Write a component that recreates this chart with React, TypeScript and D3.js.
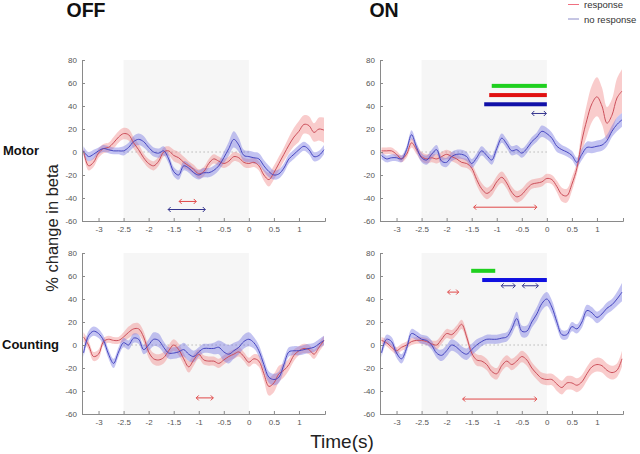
import React, { useEffect, useRef } from "react";
import * as d3 from "d3";

const times = [-3.3,-3.2,-3.1,-3.0,-2.9,-2.8,-2.7,-2.6,-2.5,-2.4,-2.3,-2.2,-2.1,-2.0,-1.9,-1.8,-1.7,-1.6,-1.5,-1.4,-1.3,-1.2,-1.1,-1.0,-0.9,-0.8,-0.7,-0.6,-0.5,-0.4,-0.3,-0.2,-0.1,0,0.1,0.2,0.3,0.4,0.5,0.6,0.7,0.8,0.9,1.0,1.1,1.2,1.3,1.4,1.5];

// OFF / Motor
const offMotorResp = [1,-12,-9,-1,3,4,8,13,16,15, 8,2,-5,-10,-12,-8,0,1,-3,-5, -9,-12,-15,-19,-17,-10,-6,-8,-10,-8, -4,-5,-9,-10,-9,-12,-20,-24,-18,-10, -2,6,13,18,24,23,17,20,19];
const offMotorRespSem = [3,4,4,4,4,4,5,5,5,5, 5,5,4,4,4,4,4,4,5,5, 5,4,4,4,4,4,4,4,4,4, 4,4,4,4,4,4,5,6,6,6, 6,7,8,9,8,8,8,10,11];
const offMotorNo = [1,-4,-2,1,3,2,1,1,1,4, 9,11,9,4,0,-1,1,-6,-17,-20, -12,-14,-18,-20,-18,-18,-16,-12,-5,3, 11,6,-3,-4,-5,-6,-12,-17,-20,-19, -14,-6,-2,2,5,2,-4,-3,2];
const offMotorNoSem = [4,4,4,3,3,3,3,3,4,4, 5,5,5,4,4,4,4,4,4,4, 4,4,4,4,4,4,4,4,5,6, 7,6,5,5,5,5,5,5,4,4, 4,4,4,4,4,4,4,4,4];

// ON / Motor
const onMotorResp = [1,1,1,-2,-6,-2,8,2,-4,-6, -5,-6,-4,-2,-4,-6,-9,-10,-14,-24, -32,-36,-33,-26,-22,-27,-35,-39,-37,-32, -28,-27,-26,-23,-24,-30,-37,-38,-28,-14, 10,28,42,48,40,25,32,47,53];
const onMotorRespSem = [3,3,3,3,3,3,4,4,4,4, 4,4,4,4,4,4,4,4,4,5, 5,5,5,5,5,5,5,5,5,5, 4,4,4,4,4,5,6,6,6,5, 10,14,16,17,16,14,14,17,19];
const onMotorNo = [-3,-6,-5,-5,-6,2,15,4,-5,-7, -2,2,-8,-9,-4,-2,-2,-4,-10,-5, 1,-3,-7,3,12,7,1,2,-1,3, 9,13,18,16,12,5,2,0,-3,-9, -2,4,4,5,6,10,18,24,28];
const onMotorNoSem = [3,3,3,3,3,3,4,4,4,4, 4,4,4,4,4,4,4,4,4,4, 4,4,4,4,4,4,4,4,4,4, 4,4,5,5,5,5,4,4,4,4, 5,5,5,5,5,5,5,6,6];

// OFF / Counting
const offCountResp = [7,0,-10,-8,3,5,4,4,7,11, 14,14,7,-6,-12,-13,-11,-5,0,-4, -12,-19,-13,-8,-13,-14,-14,-16,-13,-10, -8,-6,-10,-15,-12,-14,-25,-36,-33,-25, -22,-17,-9,-5,-3,-4,-8,-2,4];
const offCountRespSem = [4,4,4,4,3,3,3,3,4,5, 5,5,5,5,5,5,5,5,5,5, 5,5,5,4,4,4,4,4,4,4, 4,4,4,4,4,5,6,8,8,7, 6,5,5,4,4,4,4,4,4];
const offCountNo = [-7,8,12,10,4,-8,-16,-6,2,0, 6,5,-4,0,5,4,-2,-7,-7,-6, -4,-8,-10,-6,-3,-3,-3,-2,-6,-8, -5,-2,3,5,2,-5,-17,-28,-30,-28, -17,-6,-5,-5,-4,-3,-2,1,4];
const offCountNoSem = [4,4,4,4,4,4,4,4,4,4, 4,4,4,5,6,6,5,5,5,5, 6,6,5,4,4,4,5,6,8,8, 7,6,6,6,5,5,5,5,5,5, 5,4,4,4,4,4,4,4,4];

// ON / Counting
const onCountResp = [4,2,-2,-5,-2,0,3,4,4,3, 1,0,5,10,9,13,18,7,-7,-13, -14,-17,-23,-25,-18,-14,-17,-14,-10,-13, -20,-25,-29,-30,-30,-34,-37,-33,-33,-35, -32,-25,-19,-17,-18,-22,-24,-22,-12];
const onCountRespSem = [3,3,3,3,3,3,3,3,3,3, 3,4,4,4,4,4,4,4,4,5, 5,5,5,5,5,5,5,5,5,5, 5,5,5,5,5,6,6,6,6,6, 6,6,6,6,6,6,6,6,7];
const onCountNo = [-7,5,3,-7,-12,-3,10,8,5,4, 0,-7,-9,-5,0,-2,-6,-8,-4,0, 3,5,5,5,6,7,14,23,12,12, 20,27,36,40,33,20,9,9,16,14, 20,30,28,24,27,32,35,40,46];
const onCountNoSem = [4,4,4,4,4,4,4,4,4,4, 4,4,5,5,5,5,5,5,5,5, 4,4,4,4,4,4,5,6,5,5, 5,6,6,6,6,5,4,4,4,4, 5,5,5,5,5,5,5,6,8];

const yTicks = [-60, -40, -20, 0, 20, 40, 60, 80];
const xTicks = [-3, -2.5, -2, -1.5, -1, -0.5, 0, 0.5, 1];
const xDomain: [number, number] = [-3.33, 1.52];
const yDomain: [number, number] = [-60, 80];
const shadeRange: [number, number] = [-2.5, 0];

// significance bars: [from, to, value]
const onMotorBars = [
  { from: -1.1, to: 0, v: 57.5, color: "#1fd01f" },
  { from: -1.15, to: 0, v: 49.5, color: "#e01010" },
  { from: -1.25, to: 0, v: 41.5, color: "#1010a8" },
];
const onCountBars = [
  { from: -1.51, to: -1.03, v: 64.5, color: "#1fd01f" },
  { from: -1.29, to: 0, v: 56.5, color: "#1010e0" },
];
// arrows: [from, to, value]
const offMotorArrows = [
  { from: -1.39, to: -1.05, v: -43, kind: "r" },
  { from: -1.61, to: -0.87, v: -50, kind: "b" },
];
const onMotorArrows = [
  { from: -0.3, to: -0.01, v: 33.5, kind: "b" },
  { from: -1.46, to: -0.2, v: -48, kind: "r" },
];
const offCountArrows = [{ from: -1.05, to: -0.71, v: -46, kind: "r" }];
const onCountArrows = [
  { from: -0.91, to: -0.63, v: 51.5, kind: "b" },
  { from: -0.49, to: -0.17, v: 51.5, kind: "b" },
  { from: -1.98, to: -1.76, v: 46, kind: "r" },
  { from: -1.68, to: -0.2, v: -47, kind: "r" },
];

type Panel = {
  x0: number; x1: number; y0: number; y1: number;
  resp: number[]; respSem: number[]; no: number[]; noSem: number[];
  bars: { from: number; to: number; v: number; color: string }[];
  arrows: { from: number; to: number; v: number; kind: string }[];
};

const panels: Panel[] = [
  { x0: 82, x1: 325, y0: 60, y1: 221, resp: offMotorResp, respSem: offMotorRespSem, no: offMotorNo, noSem: offMotorNoSem, bars: [], arrows: offMotorArrows },
  { x0: 380, x1: 623, y0: 60, y1: 221, resp: onMotorResp, respSem: onMotorRespSem, no: onMotorNo, noSem: onMotorNoSem, bars: onMotorBars, arrows: onMotorArrows },
  { x0: 82, x1: 325, y0: 253, y1: 414, resp: offCountResp, respSem: offCountRespSem, no: offCountNo, noSem: offCountNoSem, bars: [], arrows: offCountArrows },
  { x0: 380, x1: 623, y0: 253, y1: 414, resp: onCountResp, respSem: onCountRespSem, no: onCountNo, noSem: onCountNoSem, bars: onCountBars, arrows: onCountArrows },
];

const RED_LINE = "#cc4f5a";
const RED_BAND = "#f08080";
const BLUE_LINE = "#4646c0";
const BLUE_BAND = "#7070e0";

function Axes({ p }: { p: Panel }) {
  const gx = useRef<SVGGElement>(null);
  const gy = useRef<SVGGElement>(null);
  useEffect(() => {
    const x = d3.scaleLinear().domain(xDomain).range([p.x0, p.x1]);
    const y = d3.scaleLinear().domain(yDomain).range([p.y1, p.y0]);
    const ax = d3.axisBottom(x).tickValues(xTicks).tickSize(-3).tickPadding(5).tickFormat((d: any) => String(d));
    const ay = d3.axisLeft(y).tickValues(yTicks).tickSize(-3).tickPadding(5).tickFormat((d: any) => String(d));
    const sx = d3.select(gx.current!);
    sx.call(ax as any);
    const sy = d3.select(gy.current!);
    sy.call(ay as any);
    [sx, sy].forEach((s) => {
      s.selectAll("path").attr("stroke", "#8a8a8a").attr("stroke-width", 1);
      s.selectAll("line").attr("stroke", "#8a8a8a");
      s.selectAll("text").attr("fill", "#555").style("font-size", "8px").style("font-family", "Arial, 'Liberation Sans', sans-serif");
    });
  }, [p]);
  return (
    <g>
      <g ref={gx} transform={`translate(0,${p.y1})`} />
      <g ref={gy} transform={`translate(${p.x0},0)`} />
    </g>
  );
}

function Arrow({ x1, x2, y, color }: { x1: number; x2: number; y: number; color: string }) {
  const h = 2.5;
  return (
    <g stroke={color} strokeWidth={1} fill="none">
      <line x1={x1} x2={x2} y1={y} y2={y} />
      <path d={`M${x1 + h},${y - h} L${x1},${y} L${x1 + h},${y + h}`} />
      <path d={`M${x2 - h},${y - h} L${x2},${y} L${x2 - h},${y + h}`} />
    </g>
  );
}

function PanelView({ p }: { p: Panel }) {
  const x = d3.scaleLinear().domain(xDomain).range([p.x0, p.x1]);
  const y = d3.scaleLinear().domain(yDomain).range([p.y1, p.y0]);
  const clipId = `clip-${p.x0}-${p.y0}`;
  const idx = times.map((_, i) => i);
  const area = (m: number[], s: number[]) =>
    d3.area<number>().x((i) => x(times[i])).y0((i) => y(m[i] - s[i])).y1((i) => y(m[i] + s[i])).curve(d3.curveCatmullRom)(idx) || "";
  const line = (m: number[]) =>
    d3.line<number>().x((i) => x(times[i])).y((i) => y(m[i])).curve(d3.curveCatmullRom)(idx) || "";
  return (
    <g>
      <defs>
        <clipPath id={clipId}>
          <rect x={p.x0} y={p.y0 - 20} width={p.x1 - p.x0} height={p.y1 - p.y0 + 20} />
        </clipPath>
      </defs>
      <rect x={x(shadeRange[0])} y={y(80)} width={x(shadeRange[1]) - x(shadeRange[0])} height={y(-60) - y(80)} fill="#f6f6f6" />
      <line x1={x(shadeRange[0])} x2={x(shadeRange[1])} y1={y(0)} y2={y(0)} stroke="#999" strokeDasharray="1,3" />
      <g clipPath={`url(#${clipId})`}>
        <path d={area(p.resp, p.respSem)} fill={RED_BAND} fillOpacity={0.4} />
        <path d={area(p.no, p.noSem)} fill={BLUE_BAND} fillOpacity={0.42} />
        <path d={line(p.resp)} fill="none" stroke={RED_LINE} strokeWidth={1} />
        <path d={line(p.no)} fill="none" stroke={BLUE_LINE} strokeWidth={1} />
      </g>
      {p.bars.map((b, i) => (
        <rect key={i} x={x(b.from)} width={x(b.to) - x(b.from)} y={y(b.v) - 2} height={4} fill={b.color} />
      ))}
      {p.arrows.map((a, i) => (
        <Arrow key={i} x1={x(a.from)} x2={x(a.to)} y={y(a.v)} color={a.kind === "r" ? "#e04848" : "#34348e"} />
      ))}
      <Axes p={p} />
    </g>
  );
}

export default function App() {
  const font = "Arial, 'Liberation Sans', sans-serif";
  return (
    <svg width={640} height={454} style={{ position: "absolute", left: 0, top: 0, background: "#fff" }} fontFamily={font}>
      <rect width={640} height={454} fill="#fff" />
      {panels.map((p, i) => (
        <PanelView key={i} p={p} />
      ))}
      <text x={86} y={17} textAnchor="middle" fontSize={19.5} fontWeight="bold" fill="#111">OFF</text>
      <text x={384} y={17} textAnchor="middle" fontSize={19.5} fontWeight="bold" fill="#111">ON</text>
      <text x={3} y={155} fontSize={13} fontWeight="bold" fill="#111">Motor</text>
      <text x={2} y={349} fontSize={13} fontWeight="bold" fill="#111">Counting</text>
      <text transform="translate(58,228) rotate(-90)" textAnchor="middle" fontSize={16.5} fill="#222">% change in beta</text>
      <text x={342} y={448} textAnchor="middle" fontSize={19} fill="#222">Time(s)</text>
      <line x1={568} x2={579} y1={4.5} y2={4.5} stroke="#f07080" />
      <text x={584} y={8} fontSize={9.5} fill="#333">response</text>
      <line x1={568} x2={579} y1={19} y2={19} stroke="#8c8cc8" />
      <text x={584} y={22.5} fontSize={9.5} fill="#333">no response</text>
    </svg>
  );
}
